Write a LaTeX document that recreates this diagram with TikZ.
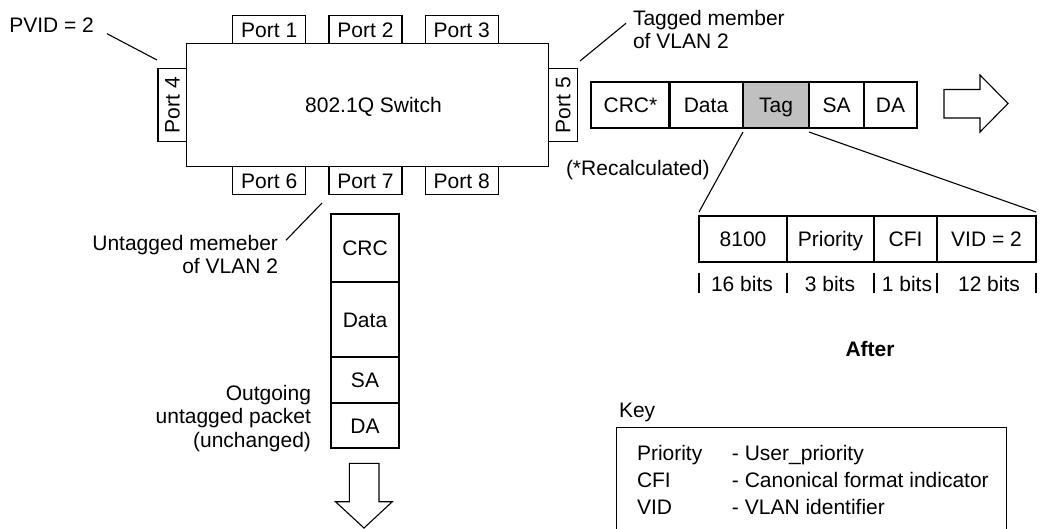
\documentclass[tikz,border=0pt]{standalone}
\usepackage{fontspec}
\setmainfont{Liberation Sans}
\definecolor{taggray}{RGB}{192,192,192}
\newcommand\diagfont{\fontsize{21}{23.5}\selectfont}

\begin{document}
\begin{tikzpicture}[x=1pt,y=-1pt,line width=1.1pt,font=\diagfont,
    box/.style={draw,inner sep=0pt,outer sep=0pt,text height=15pt,text depth=0pt},
    port/.style={box,minimum width=73,minimum height=28.5},
    cell/.style={box,minimum height=46},
    lbl/.style={inner sep=0pt,outer sep=0pt}]
        \useasboundingbox (0,0) rectangle (1047,528);
        % switch and its ports
        \node[box,minimum width=361.6,minimum height=122.7](sw)at(367.5, 104.7){\hspace{12pt}802.1Q Switch};
        \node[port](p1)at(269.2, 29.5){Port 1};
        \node[port](p2)at(365.5, 29.5){Port 2};
        \node[port](p3)at(461.7, 29.5){Port 3};
        \node[port,rotate=90](p4)at(172.2, 105.3){Port 4};
        \node[port,rotate=90](p5)at(562.8, 105.3){Port 5};
        \node[port](p6)at(269.2, 180.5){Port 6};
        \node[port](p7)at(365.5, 180.5){Port 7};
        \node[port](p8)at(461.7, 180.5){Port 8};
        % tagged packet leaving port 5
        \node[cell,minimum width=79](crc)at(630.5, 105){CRC*};
        \node[cell,minimum width=74](data)at(706, 105){Data};
        \node[cell,minimum width=66,fill=taggray](tag)at(776, 105){Tag};
        \node[cell,minimum width=55](sa)at(836.5, 105){SA};
        \node[cell,minimum width=53](da)at(890.5, 105){DA};
        \draw[miter limit=4] (944,89.5) -- (980,89.5) -- (980,75) -- (1008,103.5) -- (980,132) -- (980,118) -- (944,118) -- cycle;
        % tag fields
        \node[cell,minimum width=88](f8100)at(743, 239){8100};
        \node[cell,minimum width=87](prio)at(830.5, 239){Priority};
        \node[cell,minimum width=63](cfi)at(905.5, 239){CFI};
        \node[cell,minimum width=99](vid)at(986.5, 239){VID = 2};
        \node[lbl,anchor=base](b16)at(742, 291){16 bits};
        \node[lbl,anchor=base](b3)at(830, 291){3 bits};
        \node[lbl,anchor=base](b1)at(907, 291){1 bits};
        \node[lbl,anchor=base](b12)at(989, 291){12 bits};
        \foreach \n/\a in {f8100/south west,f8100/south east,prio/south east,cfi/south east,vid/south east}
            \draw ([yshift=-11pt]\n.\a) -- ++(0,20);
        \draw ([yshift=-4pt]tag.south west) -- ([yshift=4pt]f8100.north west);
        \draw ([yshift=-4pt]tag.south east) -- ([yshift=4pt]vid.north east);
        % untagged packet leaving port 7
        \node[cell,minimum width=68,minimum height=68](ucrc)at(365, 248){CRC};
        \node[cell,minimum width=68,minimum height=75](udata)at(365, 319.5){Data};
        \node[cell,minimum width=68](usa)at(365, 380){SA};
        \node[cell,minimum width=68,minimum height=45](uda)at(365, 425.5){DA};
        \draw[miter limit=4] (349.3,463.3) -- (379,463.3) -- (379,501.7) -- (392.3,501.7) -- (364,528) -- (335.5,501.7) -- (349.3,501.7) -- cycle;
        % labels
        \node[lbl,anchor=base west](pvid)at(9.3, 32){PVID = 2};
        \coordinate (p4lead) at (157,60);
        \draw ([xshift=13pt,yshift=-9pt]pvid.east) -- (p4lead);
        \node[lbl,anchor=base west,align=left](tagged)at(633, 48.5){Tagged member\\of VLAN 2};
        \coordinate (p5lead) at (580,61);
        \draw (p5lead) -- ([xshift=-7pt,yshift=6pt]tagged.west);
        \node[lbl,anchor=base west](recalc)at(566, 175.5){(*Recalculated)};
        \node[lbl,anchor=base east,align=right](untag)at(278, 273.5){Untagged memeber\\of VLAN 2};
        \coordinate (p7lead) at (322,203);
        \draw ([xshift=8pt,yshift=14pt]untag.east) -- (p7lead);
        \node[lbl,anchor=base east,align=right](outgo)at(311, 447){Outgoing\\untagged packet\\(unchanged)};
        \node[lbl,anchor=base,font=\diagfont\bfseries](after)at(870, 356){After};
        % key
        \node[lbl,anchor=base west](keyttl)at(619, 417){Key};
        \node[draw,inner sep=0pt,minimum width=390,minimum height=112,anchor=north west](keybox)at(616, 427){};
        \node[lbl,anchor=base west](keytxt)at(637, 460){\renewcommand\arraystretch{1.17}%
            \begin{tabular}[t]{@{}p{95pt}@{}l@{}}
            Priority & - User\_priority\\
            CFI & - Canonical format indicator\\
            VID & - VLAN identifier
            \end{tabular}};
    \end{tikzpicture}
\end{document}
